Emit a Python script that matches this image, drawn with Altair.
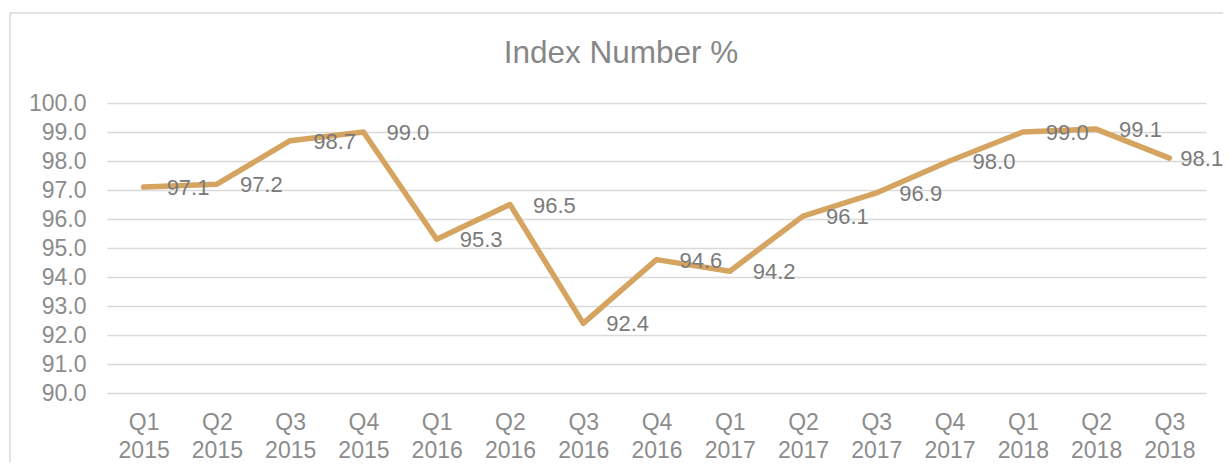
import altair as alt
import pandas as pd

quarters = ["Q1 2015", "Q2 2015", "Q3 2015", "Q4 2015",
            "Q1 2016", "Q2 2016", "Q3 2016", "Q4 2016",
            "Q1 2017", "Q2 2017", "Q3 2017", "Q4 2017",
            "Q1 2018", "Q2 2018", "Q3 2018"]
index_values = [97.1, 97.2, 98.7, 99.0, 95.3, 96.5, 92.4, 94.6,
                94.2, 96.1, 96.9, 98.0, 99.0, 99.1, 98.1]
y_ticks = [90, 91, 92, 93, 94, 95, 96, 97, 98, 99, 100]
chart_title = "Index Number %"

df = pd.DataFrame({"quarter": quarters, "value": index_values})
last_quarter = quarters[-1]

FONT = "Liberation Sans"
LINE_COLOR = "#D6A461"
GRID = "#D9D9D9"

x_enc = alt.X(
    "quarter:O",
    sort=None,
    scale=alt.Scale(type="point", padding=0.5),
    axis=alt.Axis(
        title=None, labelAngle=0, ticks=False, domain=False, grid=False,
        labelExpr="split(datum.label, ' ')",
        labelFont=FONT, labelFontSize=23, labelColor="#8C8C8C",
        labelLineHeight=28, labelPadding=18, labelBaseline="top",
    ),
)
y_enc = alt.Y(
    "value:Q",
    scale=alt.Scale(domain=[90, 100], nice=False, zero=False),
    axis=alt.Axis(
        title=None, values=y_ticks, format=".1f", ticks=False, domain=False,
        grid=True, gridColor=GRID, gridWidth=1.3,
        labelFont=FONT, labelFontSize=23, labelColor="#8C8C8C",
        labelPadding=21,
    ),
)

base = alt.Chart(df)

line = base.mark_line(
    color=LINE_COLOR, strokeWidth=5.5, strokeCap="round", strokeJoin="round"
).encode(x=x_enc, y=y_enc)

label_style = dict(align="left", baseline="middle", font=FONT, fontSize=22,
                   color="#7A7A7A")

labels = base.transform_filter(
    alt.datum.quarter != last_quarter
).mark_text(dx=23, dy=1, **label_style).encode(
    x=x_enc, y=y_enc, text=alt.Text("value:Q", format=".1f")
)

last_label = base.transform_filter(
    alt.datum.quarter == last_quarter
).mark_text(dx=11, dy=1, **label_style).encode(
    x=x_enc, y=y_enc, text=alt.Text("value:Q", format=".1f")
)

one_row = alt.Data(values=[{"t": chart_title}])

border = alt.Chart(one_row).mark_rect(
    fill=None, stroke="#D9D9D9", strokeWidth=1.5, clip=False
).encode(
    x=alt.value(-97), x2=alt.value(1300),
    y=alt.value(-90), y2=alt.value(500),
)

title_text = alt.Chart(one_row).mark_text(
    align="center", baseline="middle", font=FONT, fontSize=31.5,
    color="#878787", clip=False,
).encode(text="t:N", x=alt.value(514), y=alt.value(-49))

chart = alt.layer(border, line, labels, last_label, title_text).properties(
    width=1099,
    height=290,
    autosize=alt.AutoSizeParams(type="none"),
    padding={"left": 99, "top": 95, "right": 17, "bottom": 69},
).configure_view(stroke=None)

chart.save("out.html", embed_options={"renderer": "svg", "actions": False})
